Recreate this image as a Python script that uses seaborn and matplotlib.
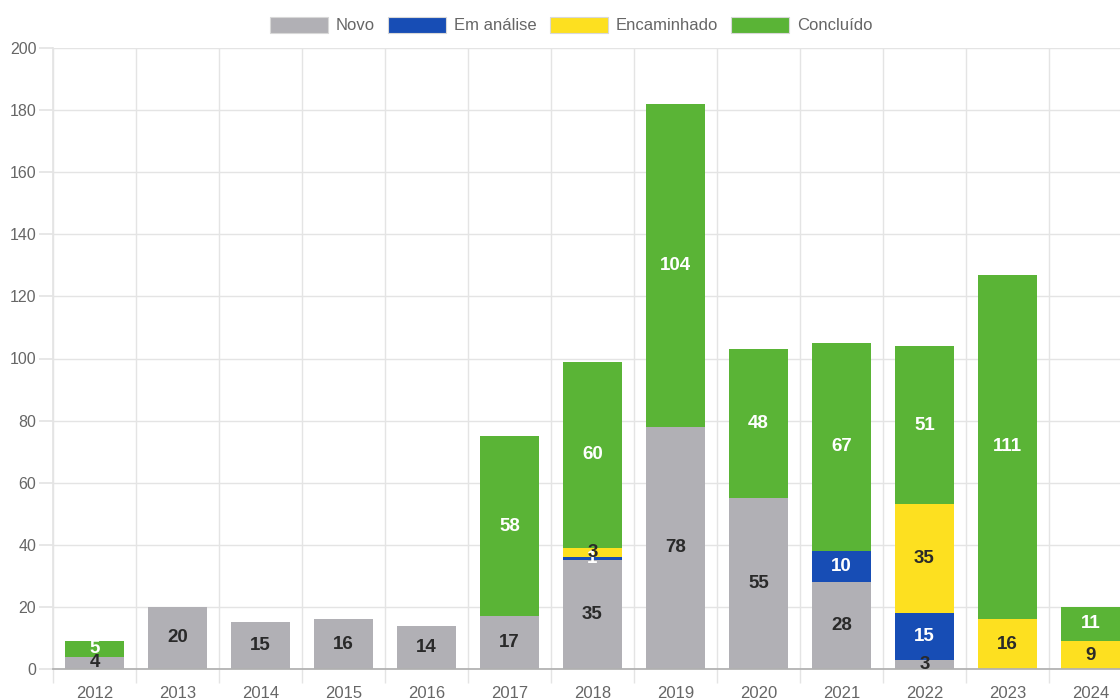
import numpy as np
import pandas as pd
import seaborn as sns
import matplotlib.pyplot as plt
from matplotlib.patches import Patch

years = [str(y) for y in range(2012, 2025)]
novo = [4, 20, 15, 16, 14, 17, 35, 78, 55, 28, 3, 0, 0]
em_analise = [0, 0, 0, 0, 0, 0, 1, 0, 0, 10, 15, 0, 0]
encaminhado = [0, 0, 0, 0, 0, 0, 3, 0, 0, 0, 35, 16, 9]
concluido = [5, 0, 0, 0, 0, 58, 60, 104, 48, 67, 51, 111, 11]
series_names = ["Novo", "Em análise", "Encaminhado", "Concluído"]
y_ticks = list(range(0, 201, 20))

colors = ["#b1b0b5", "#174db5", "#fde020", "#5ab436"]
label_colors = ["#2a2a2a", "white", "#2a2a2a", "white"]

sns.set_theme(style="white")
plt.rcParams['font.family'] = ['Liberation Sans', 'DejaVu Sans']

series = [novo, em_analise, encaminhado, concluido]
arr = np.array(series, dtype=float)
tops = np.cumsum(arr, axis=0)
bottoms = tops - arr

fig = plt.figure(figsize=(11.2, 6.99), dpi=100)
ax = fig.add_axes([53 / 1120, 1 - 669 / 699, (1132 - 53) / 1120, (669 - 48) / 699])

grid_c = "#e4e4e4"
ax.set_axisbelow(True)

for i in reversed(range(len(series_names))):
    df = pd.DataFrame({"year": years, "top": tops[i]})
    sns.barplot(data=df, x="year", y="top", color=colors[i], saturation=1,
                width=0.72, errorbar=None, ax=ax, zorder=2, linewidth=0)

for i, name in enumerate(series_names):
    for j, v in enumerate(series[i]):
        if v > 0:
            ax.text(j, bottoms[i][j] + v / 2, str(v), ha="center", va="center",
                    fontsize=13.5, fontweight="bold", color=label_colors[i], zorder=5)

ax.set_xlim(-0.5, 12.5)
ax.set_ylim(0, 200)
ax.set_yticks(y_ticks)
ax.set_xlabel("")
ax.set_ylabel("")
ax.set_xticks(np.arange(-0.5, 13, 1), minor=True)
ax.grid(False)
ax.yaxis.grid(True, color=grid_c, linewidth=1)
ax.xaxis.grid(True, which="minor", color=grid_c, linewidth=1)
ax.tick_params(axis="y", length=10, color=grid_c, pad=2, labelsize=11.5, labelcolor="#666666", left=True)
ax.tick_params(axis="x", which="major", length=0, pad=12, labelsize=12, labelcolor="#666666")
ax.tick_params(axis="x", which="minor", length=10, color=grid_c, width=1, bottom=True)

for s in ["top", "right"]:
    ax.spines[s].set_visible(False)
ax.spines["left"].set_color(grid_c)
ax.spines["bottom"].set_color("#b0b0b0")
ax.spines["bottom"].set_zorder(3)

handles = [Patch(facecolor=c, edgecolor="#d8d8d8", linewidth=0.8) for c in colors]
fig.legend(handles, series_names, loc="center", bbox_to_anchor=(571 / 1120, 1 - 25 / 699),
           ncol=4, frameon=False, fontsize=12, handlelength=3.5, handleheight=1.1,
           handletextpad=0.45, columnspacing=0.8, labelcolor="#666666")

fig.savefig("out.png", dpi=100)
